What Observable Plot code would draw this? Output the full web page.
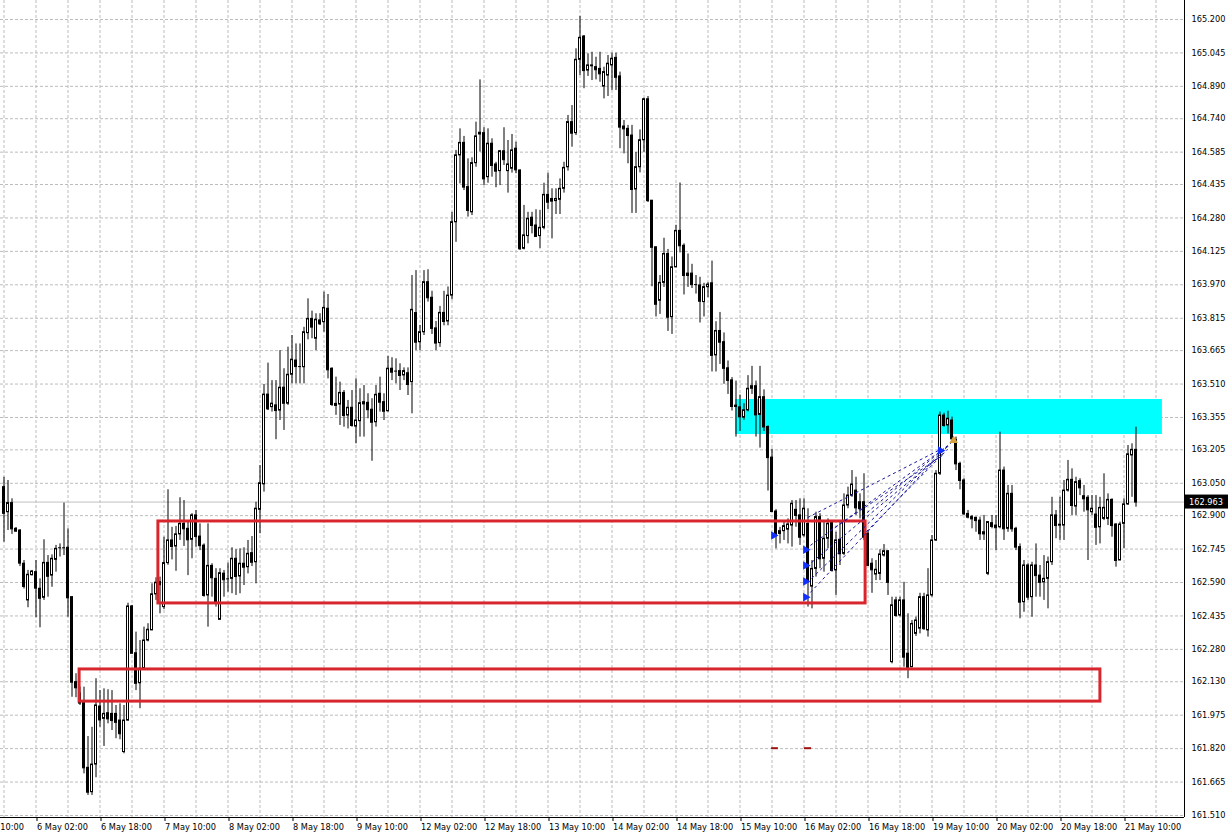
<!DOCTYPE html>
<html><head><meta charset="utf-8">
<script src="https://cdn.jsdelivr.net/npm/d3@7"></script>
<script src="https://cdn.jsdelivr.net/npm/@observablehq/plot@0.6"></script>
<style>
html,body{margin:0;padding:0;background:#fff;}
#chart{width:1230px;height:839px;overflow:hidden;}
</style></head><body><div id="chart"></div>
<script>
// ---- data: H1 candles, bar index 0 = 5 May 18:00 ----
const open = [
163.032,162.916,162.958,162.839,162.831,162.677,162.507,162.624,162.638,162.561,
162.519,162.681,162.622,162.695,162.751,162.751,162.751,162.522,162.128,162.076,
162.031,161.731,161.618,161.746,162.015,161.958,161.984,161.981,161.981,161.950,
161.804,161.950,162.479,162.262,162.123,162.190,162.321,162.368,162.535,162.592,
162.476,162.680,162.785,162.757,162.813,162.862,162.839,162.788,162.901,162.803,
162.761,162.530,162.667,162.607,162.417,162.631,162.607,162.607,162.700,162.618,
162.677,162.661,162.726,162.684,162.927,163.045,163.461,163.403,163.411,163.387,
163.493,163.419,163.553,163.619,163.591,163.588,163.746,163.812,163.720,163.805,
163.797,163.859,163.581,163.418,163.415,163.469,163.364,163.400,163.313,163.338,
163.426,163.423,163.391,163.333,163.465,163.426,163.384,163.581,163.570,163.570,
163.550,163.560,163.519,163.839,163.704,163.750,163.982,163.910,163.768,163.700,
163.840,163.800,163.920,164.260,164.570,164.628,164.423,164.306,164.534,164.667,
164.673,164.469,164.624,164.528,164.497,164.589,164.497,164.508,164.601,164.500,
164.137,164.196,164.281,164.245,164.196,164.234,164.387,164.368,164.358,164.364,
164.415,164.515,164.724,164.673,165.013,165.121,164.963,164.983,164.979,164.971,
164.889,164.940,164.987,165.022,164.936,164.704,164.693,164.662,164.412,164.515,
164.640,164.830,164.360,164.144,163.896,163.979,164.113,163.820,164.051,164.220,
164.151,164.022,164.022,163.971,163.967,163.890,163.959,163.977,163.643,163.756,
163.704,163.583,163.527,163.410,163.402,163.354,163.388,163.488,163.500,163.367,
163.449,163.311,163.169,162.919,162.815,162.828,162.835,162.854,162.927,162.901,
162.808,162.862,162.571,162.653,162.893,162.700,162.793,162.870,162.646,162.788,
162.723,162.947,162.993,163.016,162.962,162.962,162.816,162.677,162.627,162.630,
162.715,162.735,162.221,162.507,162.437,162.507,162.260,162.197,162.352,162.376,
162.522,162.368,162.530,162.785,163.094,163.364,163.318,163.341,163.250,163.140,
163.063,162.908,162.893,162.890,162.877,162.813,162.630,162.865,162.854,162.846,
163.109,162.839,163.001,162.839,162.754,162.499,162.669,162.522,162.669,162.622,
162.591,162.607,162.684,162.901,162.854,162.854,163.016,163.066,162.942,163.060,
162.990,162.983,162.916,162.905,162.846,162.885,162.885,162.973,162.859,162.692,
162.862,162.952,163.179,163.205];
const high = [
163.078,163.063,162.978,162.845,162.835,162.692,162.646,162.646,162.692,162.607,
162.788,162.715,162.718,162.762,162.769,162.958,162.839,162.525,162.167,162.105,
162.105,161.876,161.919,162.144,162.089,162.097,162.093,162.089,162.020,162.028,
162.020,162.494,162.484,162.360,162.321,162.383,162.399,162.584,162.612,162.615,
162.800,163.020,162.846,162.850,162.983,162.970,162.877,162.909,162.924,162.862,
162.769,162.862,162.677,162.654,162.654,162.646,162.680,162.751,162.742,162.746,
162.751,162.785,162.803,162.962,163.132,163.508,163.607,163.526,163.526,163.665,
163.581,163.681,163.735,163.696,163.696,163.773,163.905,163.848,163.836,163.836,
163.936,163.925,163.585,163.542,163.519,163.480,163.434,163.480,163.534,163.488,
163.503,163.465,163.442,163.503,163.542,163.465,163.638,163.632,163.627,163.604,
163.585,163.585,164.013,164.036,163.782,164.036,164.040,163.940,163.800,163.870,
163.940,163.960,164.306,164.593,164.693,164.658,164.554,164.559,164.724,164.920,
164.698,164.693,164.647,164.538,164.593,164.698,164.639,164.667,164.631,164.503,
164.338,164.306,164.306,164.318,164.315,164.441,164.487,164.415,164.415,164.461,
164.538,164.755,164.801,165.064,165.214,165.126,165.041,165.048,165.025,165.048,
164.979,165.033,165.044,165.044,164.956,164.732,164.709,164.709,164.584,164.688,
164.835,164.843,164.360,164.144,164.013,164.186,164.134,164.099,164.246,164.442,
164.160,164.113,164.065,164.013,164.005,163.977,163.980,164.080,163.799,163.842,
163.747,163.617,163.540,163.524,163.459,163.419,163.549,163.592,163.524,163.592,
163.483,163.316,163.208,162.928,162.846,162.870,162.885,162.970,162.970,162.978,
162.978,162.932,162.692,162.916,162.909,162.877,162.885,162.877,162.823,162.877,
163.001,163.032,163.109,163.078,163.001,163.094,162.830,162.700,162.692,162.742,
162.766,162.738,162.522,162.522,162.522,162.591,162.445,162.414,162.430,162.540,
162.540,162.654,162.808,163.109,163.380,163.375,163.384,163.357,163.264,163.148,
163.071,162.924,162.901,162.893,162.893,162.901,162.870,162.901,162.901,163.287,
163.125,163.040,163.040,162.846,162.769,162.692,162.677,162.684,162.769,162.669,
162.715,162.708,162.985,162.924,162.985,163.063,163.156,163.117,163.078,163.071,
163.040,162.993,162.993,162.993,162.985,163.094,163.001,162.978,162.862,162.870,
162.978,163.225,163.233,163.310];
const low = [
162.777,162.831,162.813,162.825,162.664,162.560,162.473,162.620,162.427,162.380,
162.507,162.522,162.568,162.638,162.708,162.715,162.429,162.058,162.056,162.020,
161.703,161.603,161.603,161.685,161.919,161.830,161.935,161.904,161.866,161.861,
161.796,161.947,162.260,162.089,162.005,162.185,162.315,162.368,162.507,162.445,
162.464,162.670,162.695,162.642,162.785,162.757,162.622,162.700,162.754,162.738,
162.522,162.383,162.522,162.476,162.417,162.522,162.545,162.538,162.530,162.538,
162.576,162.630,162.664,162.584,162.816,163.009,163.387,163.380,163.252,163.341,
163.295,163.411,163.511,163.511,163.511,163.511,163.715,163.720,163.665,163.781,
163.750,163.534,163.406,163.365,163.318,163.310,163.302,163.310,163.233,163.264,
163.264,163.349,163.152,163.310,163.380,163.341,163.380,163.526,163.511,163.480,
163.526,163.457,163.372,163.665,163.665,163.735,163.890,163.740,163.665,163.680,
163.780,163.780,163.900,164.167,164.438,164.407,164.284,164.291,164.515,164.585,
164.430,164.441,164.469,164.420,164.430,164.523,164.395,164.488,164.485,164.129,
164.132,164.160,164.206,164.191,164.137,164.225,164.318,164.183,164.296,164.296,
164.395,164.497,164.608,164.662,164.940,164.879,164.936,164.917,164.920,164.909,
164.832,164.843,164.871,164.871,164.601,164.577,164.531,164.301,164.301,164.489,
164.584,164.352,163.961,163.821,163.833,163.958,163.754,163.740,164.050,164.118,
163.923,163.958,163.953,163.927,163.793,163.821,163.910,163.566,163.566,163.601,
163.509,163.462,163.385,163.264,163.290,163.342,163.381,163.462,163.264,163.213,
163.290,163.014,162.914,162.746,162.769,162.785,162.769,162.754,162.846,162.762,
162.800,162.476,162.468,162.615,162.654,162.638,162.746,162.638,162.530,162.669,
162.715,162.932,162.985,162.901,162.885,162.785,162.665,162.540,162.599,162.599,
162.708,162.530,162.213,162.429,162.430,162.197,162.144,162.197,162.340,162.352,
162.368,162.337,162.522,162.780,163.086,163.310,163.279,163.240,163.109,163.020,
162.901,162.885,162.839,162.823,162.785,162.785,162.622,162.839,162.738,162.839,
162.785,162.823,162.823,162.738,162.422,162.452,162.507,162.429,162.522,162.522,
162.507,162.468,162.669,162.793,162.785,162.785,163.009,162.901,162.901,162.993,
162.916,162.692,162.901,162.762,162.769,162.877,162.854,162.800,162.661,162.692,
162.746,162.947,162.985,162.939];
const close = [
162.911,162.958,162.839,162.828,162.680,162.572,162.626,162.641,162.564,162.517,
162.681,162.619,162.700,162.746,162.751,162.751,162.519,162.128,162.102,162.031,
161.731,161.618,161.746,162.020,161.953,161.981,161.958,161.950,161.942,161.889,
161.950,162.479,162.262,162.123,162.190,162.321,162.371,162.535,162.589,162.580,
162.680,162.785,162.757,162.813,162.862,162.839,162.788,162.901,162.803,162.761,
162.530,162.667,162.612,162.494,162.633,162.603,162.607,162.700,162.618,162.677,
162.661,162.723,162.684,162.932,163.050,163.461,163.395,163.419,163.387,163.493,
163.421,163.553,163.623,163.591,163.591,163.750,163.812,163.774,163.808,163.789,
163.863,163.576,163.415,163.411,163.469,163.364,163.400,163.318,163.341,163.421,
163.418,163.391,163.333,163.460,163.426,163.384,163.581,163.565,163.570,163.550,
163.570,163.508,163.854,163.704,163.750,163.982,163.910,163.768,163.700,163.840,
163.800,163.920,164.260,164.570,164.628,164.423,164.315,164.534,164.658,164.675,
164.461,164.624,164.523,164.497,164.589,164.550,164.528,164.593,164.503,164.137,
164.199,164.276,164.245,164.194,164.234,164.387,164.353,164.358,164.368,164.415,
164.512,164.724,164.673,165.013,165.115,164.963,164.987,164.987,164.967,164.948,
164.956,164.995,165.018,164.932,164.701,164.693,164.662,164.412,164.515,164.640,
164.830,164.360,164.144,163.880,163.979,164.113,163.820,164.051,164.220,164.151,
164.013,164.013,163.971,163.971,163.894,163.959,163.971,163.643,163.756,163.704,
163.583,163.527,163.406,163.406,163.358,163.388,163.488,163.500,163.367,163.449,
163.311,163.169,162.919,162.808,162.828,162.851,162.859,162.955,162.901,162.800,
162.932,162.599,162.653,162.893,162.700,162.793,162.862,162.646,162.785,162.723,
162.947,162.993,163.044,162.936,162.932,162.800,162.669,162.649,162.649,162.720,
162.735,162.591,162.484,162.437,162.507,162.244,162.197,162.398,162.414,162.522,
162.376,162.530,162.785,163.094,163.364,163.318,163.349,163.256,163.140,163.063,
162.908,162.893,162.885,162.877,162.816,162.823,162.870,162.850,162.844,163.109,
162.839,163.001,162.839,162.754,162.499,162.669,162.522,162.669,162.622,162.591,
162.607,162.684,162.901,162.854,162.858,163.016,163.066,162.947,163.055,163.029,
162.978,162.927,162.932,162.846,162.936,162.936,162.973,162.854,162.692,162.859,
162.952,163.184,163.205,162.963];

const priceTickLabels = ["161.510","161.665","161.820","161.975","162.130","162.280","162.435","162.590","162.745","162.900","163.050","163.205","163.355","163.510","163.665","163.815","163.970","164.125","164.280","164.435","164.585","164.740","164.890","165.045","165.200"];
const timeTickLabels = ["5 May 10:00","6 May 02:00","6 May 18:00","7 May 10:00","8 May 02:00","8 May 18:00","9 May 10:00","12 May 02:00","12 May 18:00","13 May 10:00","14 May 02:00","14 May 18:00","15 May 10:00","16 May 02:00","16 May 18:00","19 May 10:00","20 May 02:00","20 May 18:00","21 May 10:00"];
const timeTickBars = timeTickLabels.map((_, k) => -8 + 16 * k);
const gridBars = d3.range(0, 289, 8);
const lastPrice = 162.963;

// drawn objects (bar index, price)
const redBoxes = [
  {x1: 38.6, x2: 215.4, top: 162.873, bottom: 162.493},
  {x1: 18.9, x2: 274.1, top: 162.187, bottom: 162.038}
];
const cyanZone = [{x1: 182.9, x2: 289.6, top: 163.4385, bottom: 163.276}];
const fanStart = [[200.9,162.891],[201.6,162.762],[201.9,162.683],[201.9,162.609],[201.6,162.544],[206.6,162.831],[214.6,162.896],[215.6,162.826]];
const fanEnd   = [[233.6,163.202],[235.4,163.216],[235.1,163.193],[236.1,163.225],[236.6,163.234],[234.6,163.179],[237.4,163.248],[235.9,163.207]];
const blueArrows = [[192.4,162.808],[200.4,162.742],[200.4,162.669],[200.4,162.595],[200.4,162.522],[234.1,163.202]];
const goldArrow = [[237.4,163.248]];
const redMarks = [{a: 191.9, b: 193.6, p: 161.822},{a: 200.1, b: 201.9, p: 161.822}];

// ---- build ----
const bars = open.map((o, k) => ({i: k, o, h: high[k], l: low[k], c: close[k]}));
const priceTicks = priceTickLabels.map(Number);
const priceLabelMap = new Map(priceTicks.map((v, k) => [v, priceTickLabels[k]]));
const timeLabelMap = new Map(timeTickBars.map((v, k) => [v, timeTickLabels[k]]));
const xDom = [-0.875, 295.125];
const yDom = [161.5007, 165.288];
const font = "DejaVu Sans";
const fs = 8.2;

const chart = Plot.plot({
  width: 1230, height: 839,
  marginLeft: 0, marginRight: 46, marginTop: 0, marginBottom: 22,
  style: {background: "#fff", fontFamily: font},
  x: {domain: xDom, axis: null},
  y: {domain: yDom, axis: null},
  marks: [
    Plot.gridY(priceTicks, {stroke: "#bcbcbc", strokeOpacity: 1, strokeDasharray: "3,2"}),
    Plot.gridX(gridBars, {stroke: "#bcbcbc", strokeOpacity: 1, strokeDasharray: "3,2"}),
    Plot.rect(cyanZone, {x1: "x1", x2: "x2", y1: "bottom", y2: "top", fill: "#00ffff"}),
    Plot.ruleY([lastPrice], {stroke: "#c0c0c0"}),
    Plot.ruleX(bars, {x: "i", y1: "l", y2: "h", stroke: "#000", strokeWidth: 1}),
    Plot.rect(bars, {x1: d => d.i - 0.25, x2: d => d.i + 0.25, y1: "o", y2: "c",
      fill: d => d.c >= d.o ? "#fff" : "#000", stroke: "#000", strokeWidth: 1}),
    Plot.ruleY(bars, {y: "c", x1: d => d.i - 0.375, x2: d => d.i + 0.375, stroke: "#000"}),
    Plot.rect(redBoxes, {x1: "x1", x2: "x2", y1: "bottom", y2: "top", fill: "none", stroke: "#d8262e", strokeWidth: 3}),
    Plot.ruleY(redMarks, {y: "p", x1: "a", x2: "b", stroke: "#a01010", strokeWidth: 2}),
    Plot.link(fanStart.map((s, k) => ({s, e: fanEnd[k]})), {
      x1: d => d.s[0], y1: d => d.s[1], x2: d => d.e[0], y2: d => d.e[1],
      stroke: "#1a1aa0", strokeWidth: 1, strokeDasharray: "3,3"}),
    Plot.dot(blueArrows, {x: d => d[0], y: d => d[1], symbol: "triangle", rotate: 90, r: 3.2, fill: "#1030ff", stroke: "none"}),
    Plot.dot(goldArrow, {x: d => d[0], y: d => d[1], symbol: "triangle", rotate: 240, r: 3.2, fill: "#d4a040", stroke: "none"}),
    Plot.ruleX([xDom[1]], {stroke: "#000"}),
    Plot.ruleY([yDom[0]], {stroke: "#000"}),
    Plot.axisY(priceTicks, {anchor: "right", tickSize: 4, tickPadding: 3, tickFormat: d => priceLabelMap.get(d),
      fontSize: fs, fontFamily: font, fill: "#000", stroke: null}),
    Plot.axisX(timeTickBars, {anchor: "bottom", tickSize: 4, tickPadding: 3, textAnchor: "start", dx: 1,
      tickFormat: d => timeLabelMap.get(d), fontSize: fs, fontFamily: font, fill: "#000"})
  ]
});
document.getElementById("chart").appendChild(chart);

// current price tag on the right axis
const svg = d3.select(chart.tagName.toLowerCase() === "svg" ? chart : chart.querySelector("svg"));
const yPx = chart.scale("y").apply(lastPrice);
svg.append("rect").attr("x", 1185).attr("y", yPx - 7).attr("width", 43).attr("height", 14).attr("fill", "#000");
svg.append("text").attr("x", 1189).attr("y", yPx + 3.3).attr("fill", "#fff")
  .attr("text-anchor", "start")
  .attr("font-family", font).attr("font-size", fs).text(lastPrice.toFixed(3));
</script></body></html>
